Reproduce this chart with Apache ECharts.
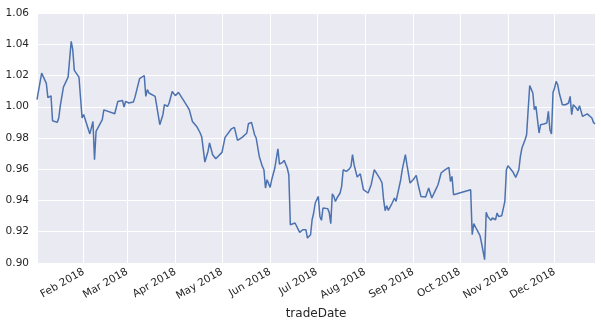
<!DOCTYPE html>
<html>
<head>
<meta charset="utf-8">
<script src="https://cdn.jsdelivr.net/npm/echarts@6/dist/echarts.min.js"></script>
<style>
html,body{margin:0;padding:0;background:#fff;}
#chart{width:601px;height:326px;}
</style>
</head>
<body>
<div id="chart"></div>
<script>
const tradeDates = [
'2018-01-02','2018-01-05','2018-01-08','2018-01-09','2018-01-11','2018-01-12','2018-01-15','2018-01-16','2018-01-17','2018-01-18',
'2018-01-19','2018-01-22','2018-01-24','2018-01-25','2018-01-26','2018-01-29','2018-01-31','2018-02-01','2018-02-02','2018-02-05',
'2018-02-07','2018-02-08','2018-02-09','2018-02-13','2018-02-14','2018-02-21','2018-02-23','2018-02-26','2018-02-27','2018-02-28',
'2018-03-02','2018-03-05','2018-03-06','2018-03-09','2018-03-12','2018-03-13','2018-03-14','2018-03-15','2018-03-19','2018-03-20',
'2018-03-22','2018-03-24','2018-03-25','2018-03-27','2018-03-28','2018-03-30','2018-04-01','2018-04-03','2018-04-04','2018-04-06',
'2018-04-09','2018-04-10','2018-04-12','2018-04-15','2018-04-17','2018-04-18','2018-04-20','2018-04-22','2018-04-23','2018-04-25',
'2018-04-26','2018-04-27','2018-05-01','2018-05-03','2018-05-07','2018-05-08','2018-05-09','2018-05-11','2018-05-14','2018-05-15',
'2018-05-17','2018-05-18','2018-05-20','2018-05-22','2018-05-23','2018-05-25','2018-05-27','2018-05-28','2018-05-29','2018-05-30',
'2018-05-31','2018-06-01','2018-06-02','2018-06-04','2018-06-06','2018-06-07','2018-06-09','2018-06-10','2018-06-12','2018-06-13',
'2018-06-14','2018-06-17','2018-06-18','2018-06-20','2018-06-21','2018-06-22','2018-06-24','2018-06-25','2018-06-27','2018-06-28',
'2018-06-29','2018-06-30','2018-07-02','2018-07-03','2018-07-04','2018-07-05','2018-07-08','2018-07-09','2018-07-10','2018-07-11',
'2018-07-12','2018-07-13','2018-07-14','2018-07-16','2018-07-17','2018-07-18','2018-07-20','2018-07-22','2018-07-23','2018-07-24',
'2018-07-25','2018-07-26','2018-07-27','2018-07-29','2018-07-30','2018-07-31','2018-08-01','2018-08-03','2018-08-05','2018-08-06',
'2018-08-07','2018-08-08','2018-08-11','2018-08-12','2018-08-13','2018-08-14','2018-08-15','2018-08-16','2018-08-18','2018-08-20',
'2018-08-21','2018-08-22','2018-08-23','2018-08-24','2018-08-25','2018-08-27','2018-08-28','2018-08-30','2018-09-01','2018-09-03',
'2018-09-04','2018-09-05','2018-09-06','2018-09-09','2018-09-10','2018-09-11','2018-09-12','2018-09-13','2018-09-15','2018-09-17',
'2018-09-18','2018-09-19','2018-09-21','2018-09-24','2018-09-25','2018-09-26','2018-09-27','2018-10-08','2018-10-09','2018-10-10',
'2018-10-12','2018-10-14','2018-10-15','2018-10-17','2018-10-18','2018-10-19','2018-10-21','2018-10-22','2018-10-24','2018-10-25',
'2018-10-26','2018-10-28','2018-10-30','2018-10-31','2018-11-01','2018-11-04','2018-11-06','2018-11-08','2018-11-09','2018-11-10',
'2018-11-12','2018-11-13','2018-11-14','2018-11-15','2018-11-16','2018-11-17','2018-11-18','2018-11-19','2018-11-20','2018-11-21',
'2018-11-22','2018-11-24','2018-11-26','2018-11-27','2018-11-28','2018-11-29','2018-11-30','2018-12-01','2018-12-02','2018-12-03',
'2018-12-04','2018-12-05','2018-12-06','2018-12-08','2018-12-10','2018-12-11','2018-12-12','2018-12-13','2018-12-15','2018-12-16',
'2018-12-17','2018-12-19','2018-12-20','2018-12-22','2018-12-23','2018-12-25','2018-12-26','2018-12-27'
];
const navValues = [
1.0045,1.0215,1.015,1.0058,1.007,0.991,0.990,0.9928,1.0007,1.0015,
1.0126,1.019,1.0418,1.0365,1.0233,1.019,0.9928,0.995,0.9949,0.9826,
0.9906,0.9661,0.9842,0.9917,0.998,0.9955,1.0034,1.004,0.9998,1.0034,
1.0024,1.003,1.006,1.018,1.020,1.0066,1.011,1.0088,1.0066,1.0007,
0.9885,0.9949,1.0013,1.0002,1.0024,1.0098,1.0071,1.0092,1.0088,1.0045,
0.9998,0.998,0.9906,0.987,0.9832,0.9806,0.9646,0.9714,0.9768,0.9693,
0.9697,0.9667,0.9708,0.9804,0.9858,0.9849,0.9868,0.9785,0.9804,0.9806,
0.9832,0.9891,0.990,0.9821,0.980,0.9682,0.9618,0.9597,0.948,0.9533,
0.9527,0.9484,0.9533,0.9608,0.9731,0.9633,0.9644,0.9657,0.9608,0.9565,
0.9245,0.9256,0.9266,0.9196,0.9192,0.9213,0.9213,0.916,0.9181,0.9277,
0.932,0.9384,0.9426,0.9298,0.9273,0.9352,0.9348,0.9324,0.9252,0.9443,
0.9426,0.9394,0.9416,0.9448,0.949,0.9597,0.9586,0.9602,0.9618,0.9693,
0.9629,0.9618,0.955,0.9571,0.9565,0.9469,0.9474,0.9448,0.9501,0.9508,
0.9597,0.9608,0.9533,0.9512,0.9405,0.9335,0.9367,0.9337,0.9373,0.9416,
0.9394,0.9441,0.9448,0.9533,0.9597,0.9693,0.9629,0.9512,0.9533,0.9561,
0.9512,0.9508,0.9426,0.9422,0.9426,0.948,0.9448,0.9416,0.9458,0.9501,
0.9501,0.9576,0.9593,0.9612,0.9522,0.9554,0.9437,0.9469,0.9181,0.9252,
0.9213,0.9175,0.9128,0.9021,0.9324,0.9298,0.9273,0.9288,0.9277,0.932,
0.9298,0.9303,0.9394,0.9597,0.9623,0.9586,0.9548,0.9597,0.9682,0.9736,
0.9789,0.9821,0.9981,1.0135,1.0141,1.0088,0.9981,1.0002,0.9996,0.9832,
0.9885,0.989,0.9896,0.997,0.9853,0.9826,1.0092,1.012,1.0162,1.0141,
1.0088,1.0092,1.0013,1.0013,1.0024,1.0066,0.9949,1.0013,0.9992,0.9975,
1.0007,0.9938,0.9949,0.9954,0.9954,0.9928,0.990,0.989
];
const monthNames = ['Jan','Feb','Mar','Apr','May','Jun','Jul','Aug','Sep','Oct','Nov','Dec'];

function toTs(s){ const p = s.split('-').map(Number); return new Date(p[0], p[1]-1, p[2]).getTime(); }
const seriesData = tradeDates.map((d,i)=>[toTs(d), navValues[i]]);
const DAY = 86400000;

const chart = echarts.init(document.getElementById('chart'), null, {renderer:'canvas'});
chart.setOption({
  animation:false,
  backgroundColor:'#ffffff',
  grid:{left:37, right:6, top:13, bottom:63, show:true, backgroundColor:'#EAEAF2', borderWidth:0, containLabel:false},
  xAxis:{
    type:'time',
    min:toTs(tradeDates[0]), max:toTs(tradeDates[tradeDates.length-1]),
    minInterval:28*DAY, maxInterval:31*DAY,
    name:'tradeDate', nameLocation:'middle', nameGap:45,
    nameTextStyle:{fontFamily:'DejaVu Sans', fontSize:12, color:'#262626'},
    axisLine:{show:false}, axisTick:{show:false},
    axisLabel:{rotate:30, margin:8, fontFamily:'DejaVu Sans', fontSize:10.5, color:'#262626',
      showMinLabel:false, showMaxLabel:false, hideOverlap:false,
      formatter:(v)=>{const d=new Date(v); return d.getDate()===1 ? monthNames[d.getMonth()]+' '+d.getFullYear() : '';}},
    splitLine:{show:true, lineStyle:{color:'#ffffff', width:1}}
  },
  yAxis:{
    type:'value', min:0.90, max:1.06, interval:0.02,
    axisLine:{show:false}, axisTick:{show:false},
    axisLabel:{margin:8, fontFamily:'DejaVu Sans', fontSize:10.5, color:'#262626', formatter:(v)=>v.toFixed(2)},
    splitLine:{show:true, lineStyle:{color:'#ffffff', width:1}}
  },
  series:[{
    type:'line', data:seriesData, showSymbol:false, symbol:'none',
    lineStyle:{color:'#4C72B0', width:1.5}, itemStyle:{color:'#4C72B0'}
  }]
});
</script>
</body>
</html>
